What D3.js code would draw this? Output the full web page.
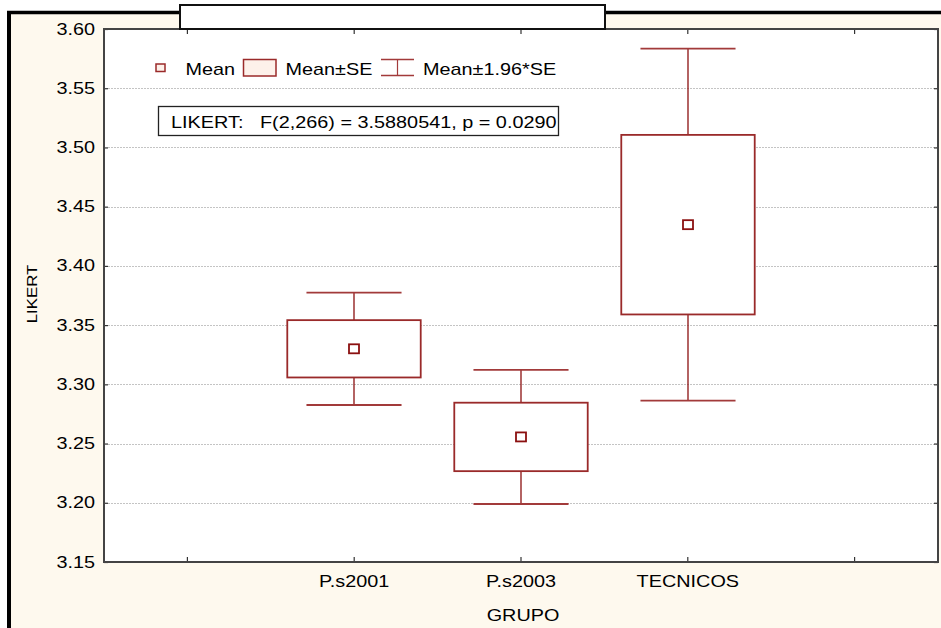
<!DOCTYPE html>
<html>
<head>
<meta charset="utf-8">
<script src="https://cdn.jsdelivr.net/npm/d3@7"></script>
<style>
  html, body { margin: 0; padding: 0; background: #ffffff; }
  svg { display: block; }
  text { font-family: "Liberation Sans", Arial, sans-serif; fill: #000; white-space: pre; }
</style>
</head>
<body>
<script>
// Group means and standard errors of the LIKERT score
const groups = ["P.s2001", "P.s2003", "TECNICOS"];
const means = [3.330, 3.2556, 3.4348];
const stdErrs = [0.0242, 0.0289, 0.0758];
const ciFactor = 1.96;

// Axis settings
const yTicks = [3.15, 3.20, 3.25, 3.30, 3.35, 3.40, 3.45, 3.50, 3.55, 3.60];
const yDomain = [3.15, 3.60];
const xSlots = ["lead", ...groups, "tail"];   // empty slots either side

const legendLabels = ["Mean", "Mean\u00B1SE", "Mean\u00B11.96*SE"];
const statText = "LIKERT:   F(2,266) = 3.5880541, p = 0.0290";
const xTitle = "GRUPO";
const yTitle = "LIKERT";

const W = 941, H = 628;
const plot = { left: 104, right: 938, top: 29, bottom: 562 };
const SX = 1.24;               // horizontal glyph stretch
const RED = "#8b1010";

const svg = d3.select("body").append("svg")
  .attr("width", W).attr("height", H);

// Outer panel: cream fill, heavy black rule on top and left
svg.append("rect").attr("x", 9).attr("y", 12.5).attr("width", W - 9).attr("height", H - 12.5)
  .attr("fill", "#fef9ee");
svg.append("line").attr("x1", 7).attr("x2", W).attr("y1", 12.5).attr("y2", 12.5)
  .attr("stroke", "#000").attr("stroke-width", 3.5);
svg.append("line").attr("x1", 9).attr("x2", 9).attr("y1", 11).attr("y2", H)
  .attr("stroke", "#000").attr("stroke-width", 4);

const x = d3.scaleBand().domain(xSlots).range([plot.left, plot.right]).padding(0);
const y = d3.scaleLinear().domain(yDomain).range([plot.bottom, plot.top]);
const cx = g => x(g) + x.bandwidth() / 2;

// Plot area
svg.append("rect").attr("x", plot.left).attr("y", plot.top)
  .attr("width", plot.right - plot.left).attr("height", plot.bottom - plot.top)
  .attr("fill", "#ffffff");

// Dotted horizontal grid
svg.append("g").selectAll("line")
  .data(yTicks.filter(t => t > yDomain[0] && t < yDomain[1]))
  .join("line")
  .attr("x1", plot.left + 4).attr("x2", plot.right - 1)
  .attr("y1", d => Math.round(y(d)) + 0.5).attr("y2", d => Math.round(y(d)) + 0.5)
  .attr("stroke", "#c4c4c4").attr("stroke-width", 1).attr("stroke-dasharray", "2,1");

function stretchedText(parent, px, py, str, anchor, size) {
  return parent.append("text")
    .attr("transform", `translate(${px},${py}) scale(${SX},1)`)
    .attr("text-anchor", anchor)
    .attr("font-size", size)
    .attr("xml:space", "preserve")
    .text(str);
}

// Left axis with labels and inward ticks
const yAxisG = svg.append("g").attr("transform", `translate(${plot.left},0)`)
  .call(d3.axisRight(y).tickValues(yTicks).tickSize(4).tickFormat(""));
yAxisG.select(".domain").remove();
yAxisG.selectAll(".tick line").attr("stroke", "#333").attr("stroke-width", 1.2);
yTicks.forEach(t => stretchedText(svg, 95, y(t) + 5.5, d3.format(".2f")(t), "end", 16));

// Right axis inward ticks
const yAxisR = svg.append("g").attr("transform", `translate(${plot.right},0)`)
  .call(d3.axisLeft(y).tickValues(yTicks).tickSize(4).tickFormat(""));
yAxisR.select(".domain").remove();
yAxisR.selectAll(".tick line").attr("stroke", "#333").attr("stroke-width", 1.2);

// Bottom and top category ticks (inward)
const xAxisB = svg.append("g").attr("transform", `translate(0,${plot.bottom})`)
  .call(d3.axisTop(x).tickValues(xSlots).tickSize(5).tickFormat(""));
xAxisB.select(".domain").remove();
xAxisB.selectAll(".tick line").attr("stroke", "#333").attr("stroke-width", 1.2);
const xAxisT = svg.append("g").attr("transform", `translate(0,${plot.top})`)
  .call(d3.axisBottom(x).tickValues(xSlots).tickSize(5).tickFormat(""));
xAxisT.select(".domain").remove();
xAxisT.selectAll(".tick line").attr("stroke", "#333").attr("stroke-width", 1.2);

groups.forEach(g => stretchedText(svg, cx(g), 587, g, "middle", 16));

// Plot frame
svg.append("rect").attr("x", plot.left).attr("y", plot.top)
  .attr("width", plot.right - plot.left).attr("height", plot.bottom - plot.top)
  .attr("fill", "none").attr("stroke", "#444").attr("stroke-width", 2);

// Axis titles
stretchedText(svg, (plot.left + plot.right) / 2 + 2, 620.5, xTitle, "middle", 16);
svg.append("text")
  .attr("transform", `translate(36.5,294) rotate(-90) scale(1.2,1)`)
  .attr("text-anchor", "middle").attr("font-size", 14)
  .text(yTitle);

// Empty title box straddling the top of the frame
svg.append("rect").attr("x", 180).attr("y", 5).attr("width", 425).attr("height", 24)
  .attr("fill", "#ffffff").attr("stroke", "#111").attr("stroke-width", 2);

// Mean / SE boxes / 1.96*SE whiskers
const boxW = x.bandwidth() * 0.8;
const capW = x.bandwidth() * 0.57;
const marks = svg.append("g");
groups.forEach((g, i) => {
  const m = means[i], se = stdErrs[i];
  const c = Math.round(cx(g));
  const hiCI = m + ciFactor * se, loCI = m - ciFactor * se;
  // whisker stems
  marks.append("line").attr("x1", c).attr("x2", c).attr("y1", y(hiCI)).attr("y2", y(m + se))
    .attr("stroke", RED).attr("stroke-width", 1.3);
  marks.append("line").attr("x1", c).attr("x2", c).attr("y1", y(m - se)).attr("y2", y(loCI))
    .attr("stroke", RED).attr("stroke-width", 1.3);
  // caps
  [hiCI, loCI].forEach(v => marks.append("line")
    .attr("x1", c - capW / 2).attr("x2", c + capW / 2).attr("y1", y(v)).attr("y2", y(v))
    .attr("stroke", "#a23a3a").attr("stroke-width", 1.8));
  // SE box
  marks.append("rect").attr("x", c - boxW / 2).attr("y", y(m + se))
    .attr("width", boxW).attr("height", y(m - se) - y(m + se))
    .attr("fill", "#ffffff").attr("stroke", "#9a2a2a").attr("stroke-width", 1.8);
  // mean marker
  marks.append("rect").attr("x", c - 5).attr("y", y(m) - 4.5).attr("width", 10).attr("height", 9)
    .attr("fill", "#ffffff").attr("stroke", RED).attr("stroke-width", 1.8);
});

// Legend
const lg = svg.append("g");
lg.append("rect").attr("x", 156).attr("y", 64).attr("width", 9).attr("height", 7.5)
  .attr("fill", "#fdf1ea").attr("stroke", "#9a2a2a").attr("stroke-width", 1.5);
stretchedText(lg, 185.5, 74.5, legendLabels[0], "start", 16);
lg.append("rect").attr("x", 243.5).attr("y", 59.5).attr("width", 32.5).attr("height", 16.5)
  .attr("fill", "#fdf1ea").attr("stroke", "#9a2a2a").attr("stroke-width", 1.5);
stretchedText(lg, 285.5, 74.5, legendLabels[1], "start", 16);
lg.append("line").attr("x1", 381).attr("x2", 414).attr("y1", 59.5).attr("y2", 59.5)
  .attr("stroke", "#a23a3a").attr("stroke-width", 1.5);
lg.append("line").attr("x1", 381).attr("x2", 414).attr("y1", 75.5).attr("y2", 75.5)
  .attr("stroke", "#a23a3a").attr("stroke-width", 1.5);
lg.append("line").attr("x1", 397.5).attr("x2", 397.5).attr("y1", 59.5).attr("y2", 75.5)
  .attr("stroke", "#a23a3a").attr("stroke-width", 1.2);
stretchedText(lg, 423, 74.5, legendLabels[2], "start", 16);

// ANOVA result box
svg.append("rect").attr("x", 158.5).attr("y", 106.5).attr("width", 400).attr("height", 29)
  .attr("fill", "#ffffff").attr("stroke", "#222").attr("stroke-width", 1.3);
stretchedText(svg, 171, 128, statText, "start", 16);
</script>
</body>
</html>
